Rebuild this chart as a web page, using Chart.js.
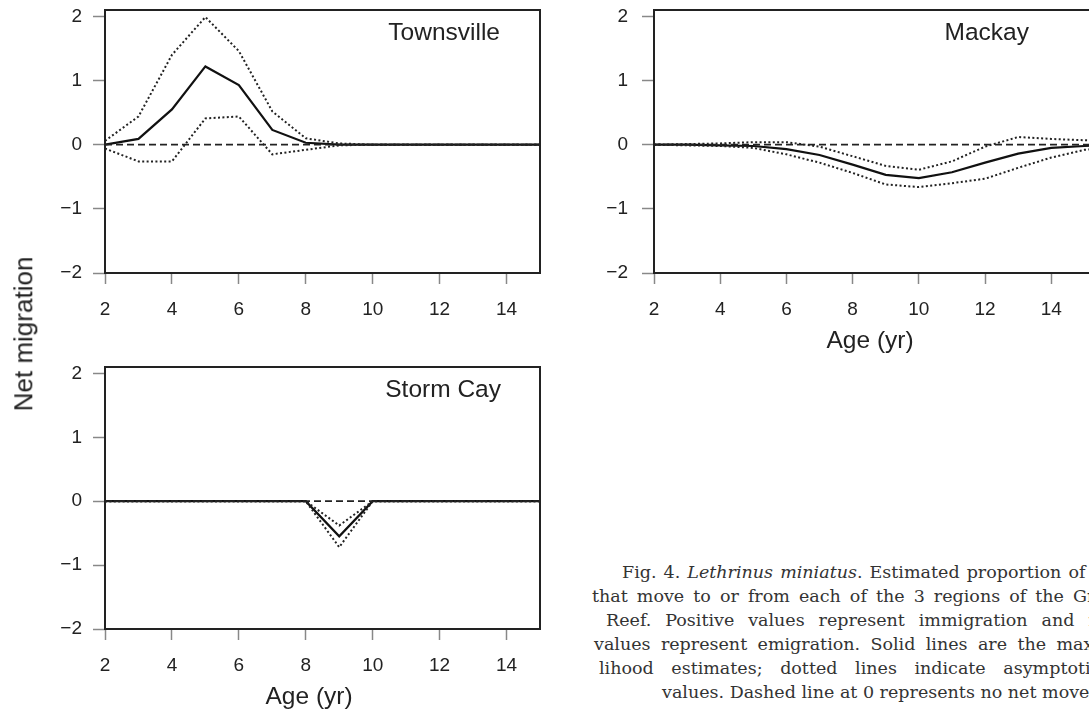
<!DOCTYPE html>
<html>
<head>
<meta charset="utf-8">
<script src="https://cdn.jsdelivr.net/npm/chart.js@4.4.1/dist/chart.umd.min.js"></script>
<style>
  body { margin: 0; background: #fff; }
  #fig { position: relative; width: 1089px; height: 711px; overflow: hidden; background: #fff;
         font-family: 'Liberation Sans', Arial, sans-serif; color: #222; }
  .panel { position: absolute; }
  .panel canvas { display: block; }
  .txt { position: absolute; white-space: nowrap; font-size: 24.5px; line-height: 30px; }
  #yTitle { font-size: 26px; }
  .cap { position: absolute; white-space: nowrap; font-family: 'DejaVu Serif', serif;
         font-size: 17.5px; line-height: 24px; color: #333; }
  .mark { display: inline-block; width: 0; height: 0; }
</style>
</head>
<body>
<div id="fig">
  <div class="panel" style="left:0;top:0"><canvas id="townsville" width="560" height="330"></canvas></div>
  <div class="panel" style="left:560px;top:0"><canvas id="mackay" width="560" height="330"></canvas></div>
  <div class="panel" style="left:0;top:357px"><canvas id="stormCay" width="560" height="330"></canvas></div>

  <div id="yTitle" class="txt">Net migration</div>
  <div class="txt age" data-x="870" data-base="348">Age (yr)</div>
  <div class="txt age" data-x="309" data-base="704">Age (yr)</div>

  <div class="cap" data-base="578" data-a="870,1068">Fig. 4. <i>Lethrinus miniatus</i>. <span class="a">Estimated</span> proportion <span class="a">of</span> fish</div>
  <div class="cap" data-base="602" data-a="748,1073">that move to or <span class="a">from</span> each of the 3 regions of the <span class="a">Great</span> Barrier</div>
  <div class="cap" data-base="626" data-a="748,1042">Reef. Positive <span class="a">values</span> represent immigration <span class="a">and</span> negative</div>
  <div class="cap" data-base="650" data-a="758,1057">values represent <span class="a">emigration.</span> Solid lines are the <span class="a">maximum</span> like-</div>
  <div class="cap" data-base="674" data-a="780,1003">lihood estimates; <span class="a">dotted</span> lines indicate <span class="a">asymptotic</span> 95% confidence</div>
  <div class="cap" data-base="698" data-a="802">values. Dashed <span class="a">line</span> at 0 represents no net movement</div>
</div>

<script>
// ages and values
const ages = [2, 3, 4, 5, 6, 7, 8, 9, 10, 11, 12, 13, 14, 15];
const mackayAges = [2, 3, 4, 5, 6, 7, 8, 9, 10, 11, 12, 13, 14, 15, 16];

const townsvilleML    = [0, 0.09, 0.55, 1.22, 0.93, 0.23, 0.03, 0, 0, 0, 0, 0, 0, 0];
const townsvilleUpper = [0.06, 0.44, 1.40, 1.99, 1.46, 0.52, 0.10, 0.02, 0, 0, 0, 0, 0, 0];
const townsvilleLower = [-0.06, -0.26, -0.26, 0.41, 0.44, -0.15, -0.08, -0.01, 0, 0, 0, 0, 0, 0];

const mackayML    = [0, 0, -0.01, -0.02, -0.07, -0.16, -0.31, -0.47, -0.52, -0.43, -0.28, -0.14, -0.05, -0.02, 0];
const mackayUpper = [0, 0.01, 0.02, 0.04, 0.04, -0.03, -0.18, -0.33, -0.39, -0.26, -0.03, 0.12, 0.09, 0.07, 0.05];
const mackayLower = [0, -0.01, -0.02, -0.05, -0.15, -0.28, -0.44, -0.62, -0.66, -0.60, -0.53, -0.36, -0.20, -0.08, -0.03];

const stormML    = [0, 0, 0, 0, 0, 0, 0, -0.55, 0, 0, 0, 0, 0, 0];
const stormUpper = [0, 0, 0, 0, 0, 0, 0, -0.38, 0, 0, 0, 0, 0, 0];
const stormLower = [0, 0, 0, 0, 0, 0, 0, -0.72, 0, 0, 0, 0, 0, 0];

// dashed reference line (no net movement)
const refAges = [2, 16];
const refLine = [0, 0];

const xTicks = [2, 4, 6, 8, 10, 12, 14];
const yTicks = [-2, -1, 0, 1, 2];
const yTickLabels = ['\u22122', '\u22121', '0', '1', '2'];

Chart.defaults.font.family = '"Liberation Sans", Arial, sans-serif';

function toPoints(xs, ys) {
    return xs.map((x, i) => ({ x: x, y: ys[i] }));
}

// box round the plot area + region name
const framePlugin = {
    id: 'frame',
    afterDatasetsDraw(chart, args, opts) {
        const ctx = chart.ctx;
        const a = chart.chartArea;
        ctx.save();
        ctx.strokeStyle = '#222';
        ctx.lineWidth = 2;
        ctx.strokeRect(a.left, a.top, a.right - a.left, a.bottom - a.top);
        ctx.font = '24.5px "Liberation Sans", Arial, sans-serif';
        ctx.fillStyle = '#222';
        ctx.textAlign = 'right';
        ctx.textBaseline = 'alphabetic';
        ctx.fillText(opts.label, a.left + opts.labelRight, a.top + 30);
        ctx.restore();
    }
};

function makeChart(id, cfg) {
    return new Chart(document.getElementById(id), {
        type: 'line',
        data: {
            datasets: [
                { label: 'No net movement', data: toPoints(refAges, refLine),
                  borderColor: '#222', borderWidth: 1.8, borderDash: [7, 4] },
                { label: 'Upper limit', data: toPoints(cfg.ages, cfg.upper),
                  borderColor: '#222', borderWidth: 2, borderDash: [2, 2.4] },
                { label: 'Lower limit', data: toPoints(cfg.ages, cfg.lower),
                  borderColor: '#222', borderWidth: 2, borderDash: [2, 2.4] },
                { label: 'Maximum likelihood', data: toPoints(cfg.ages, cfg.ml),
                  borderColor: '#111', borderWidth: 2.2 }
            ]
        },
        options: {
            responsive: false,
            animation: false,
            devicePixelRatio: 1,
            layout: { padding: cfg.padding, autoPadding: false },
            elements: { point: { radius: 0 }, line: { tension: 0 } },
            plugins: {
                legend: { display: false },
                tooltip: { enabled: false },
                frame: { label: cfg.label, labelRight: cfg.labelRight }
            },
            scales: {
                x: {
                    type: 'linear', min: 2, max: cfg.xMax,
                    afterBuildTicks: s => { s.ticks = xTicks.map(v => ({ value: v })); },
                    afterFit: s => { s.height = cfg.xHeight; s.paddingLeft = 0; s.paddingRight = 0; },
                    grid: { drawOnChartArea: false, tickLength: 11, tickColor: '#888', tickWidth: 1.5 },
                    border: { display: false },
                    ticks: { padding: 16, color: '#222', font: { size: 19, lineHeight: 1 },
                             maxRotation: 0, autoSkip: false, callback: v => String(v) }
                },
                y: {
                    type: 'linear', min: -2, max: 2.1,
                    afterBuildTicks: s => { s.ticks = yTicks.map(v => ({ value: v })); },
                    afterFit: s => { s.width = cfg.yWidth; s.paddingTop = 0; s.paddingBottom = 0; },
                    grid: { drawOnChartArea: false, tickLength: 12, tickColor: '#888', tickWidth: 1.5 },
                    border: { display: false },
                    ticks: { padding: cfg.yPad, color: '#222', font: { size: 19, lineHeight: 1 },
                             autoSkip: false, callback: v => yTickLabels[yTicks.indexOf(v)] }
                }
            }
        },
        plugins: [framePlugin]
    });
}

makeChart('townsville', {
    label: 'Townsville', labelRight: 395,
    ages: ages, ml: townsvilleML, upper: townsvilleUpper, lower: townsvilleLower,
    xMax: 15, xHeight: 57, yWidth: 105, yPad: 11,
    padding: { top: 10, right: 20, left: 0, bottom: 0 }
});

makeChart('mackay', {
    label: 'Mackay', labelRight: 375,
    ages: mackayAges, ml: mackayML, upper: mackayUpper, lower: mackayLower,
    xMax: 15.2, xHeight: 57, yWidth: 94, yPad: 14,
    padding: { top: 10, right: 29, left: 0, bottom: 0 }
});

makeChart('stormCay', {
    label: 'Storm Cay', labelRight: 396,
    ages: ages, ml: stormML, upper: stormUpper, lower: stormLower,
    xMax: 15, xHeight: 58, yWidth: 105, yPad: 11,
    padding: { top: 10, right: 20, left: 0, bottom: 0 }
});

// text placement
function addMark(el) {
    const m = document.createElement('span');
    m.className = 'mark';
    el.appendChild(m);
    return m;
}

document.querySelectorAll('.age').forEach(el => {
    const m = addMark(el);
    el.style.left = (Number(el.dataset.x) - el.offsetWidth / 2) + 'px';
    el.style.top = (Number(el.dataset.base) - m.offsetTop) + 'px';
});

const yTitle = document.getElementById('yTitle');
const ym = addMark(yTitle);
const yw = yTitle.offsetWidth, yh = yTitle.offsetHeight;
yTitle.style.left = (32 - (ym.offsetTop - yh / 2) - yw / 2) + 'px';
yTitle.style.top = (334 - yh / 2) + 'px';
yTitle.style.transform = 'rotate(-90deg)';

document.querySelectorAll('.cap').forEach(el => {
    const xs = el.dataset.a.split(',').map(Number);
    const a = el.querySelectorAll('.a');
    if (a.length > 1) {
        const r = document.createRange();
        r.setStartBefore(a[0]);
        r.setEndBefore(a[1]);
        const spaces = (r.toString().match(/ /g) || []).length;
        const natural = a[1].offsetLeft - a[0].offsetLeft;
        el.style.wordSpacing = ((xs[1] - xs[0]) - natural) / spaces + 'px';
    }
    el.style.left = (xs[0] - a[0].offsetLeft) + 'px';
    const m = addMark(el);
    el.style.top = (Number(el.dataset.base) - m.offsetTop) + 'px';
});
</script>
</body>
</html>
